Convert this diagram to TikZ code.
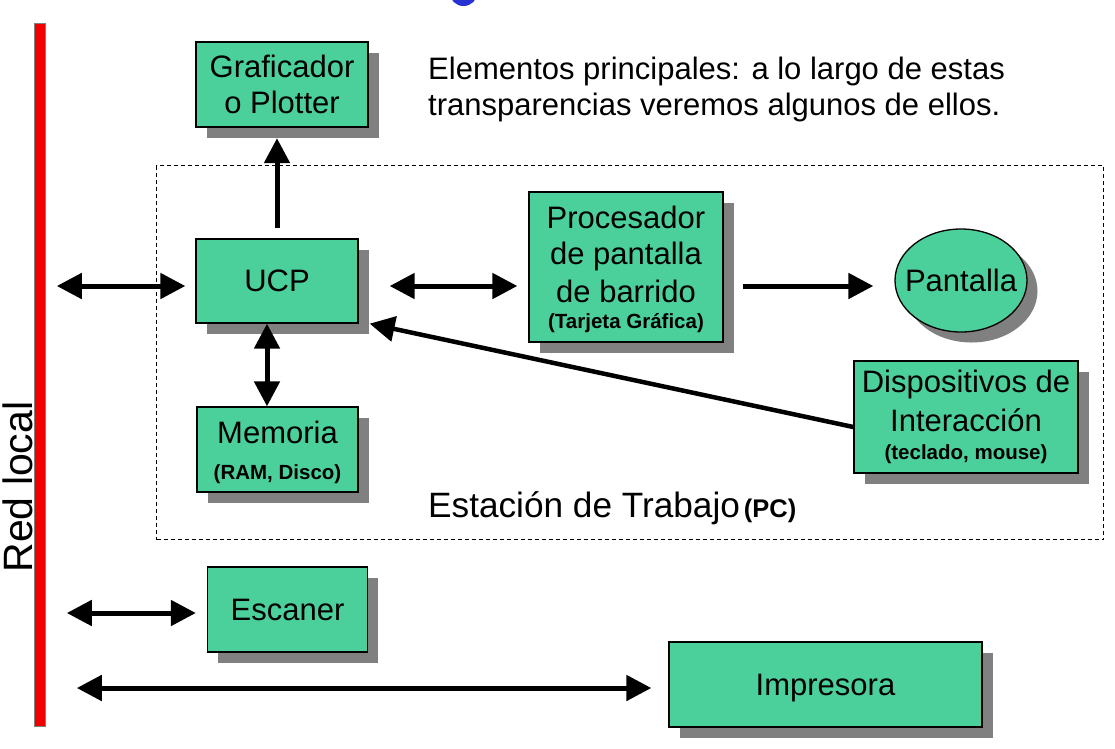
\documentclass[tikz,border=0pt]{standalone}
\usepackage{fontspec}
\setmainfont{Liberation Sans}
\usetikzlibrary{arrows.meta,shapes.geometric,shadows,calc}
\definecolor{boxgreen}{RGB}{76,208,155}
\definecolor{shadowgray}{RGB}{128,128,128}
\definecolor{netred}{RGB}{240,0,0}
\definecolor{blobblue}{RGB}{40,50,210}
\tikzset{
  box/.style={draw=black, line width=1.3pt, fill=boxgreen, inner sep=0pt,
    align=center, font=\fontsize{31}{36}\selectfont,
    drop shadow={shadow xshift=10.5pt, shadow yshift=-10.5pt, fill=shadowgray, opacity=1}},
  arr/.style={line width=5pt, -{Triangle[length=25pt,width=25pt]}},
  dbl/.style={line width=5pt, {Triangle[length=25pt,width=25pt]}-{Triangle[length=25pt,width=25pt]}},
  wsbox/.style={draw=black, line width=1.1pt, dash pattern=on 4pt off 3pt, inner sep=0pt},
  plain/.style={inner sep=0pt, font=\fontsize{31}{36}\selectfont},
}
\newcommand{\sub}[1]{{\bfseries\fontsize{20.5}{24}\selectfont #1}}
\begin{document}
\begin{tikzpicture}[x=1pt,y=-1pt]
\useasboundingbox (0,0) rectangle (1115,748);
% blue fragment at the top
\fill[blobblue] (463.5,-8) circle (14pt);
% network bar
\node[draw=gray, fill=netred, line width=0.8pt, minimum width=11pt, minimum height=703pt,
      inner sep=0pt, anchor=north west] (red) at (34,23) {};
\node[rotate=90, anchor=base, inner sep=0pt, font=\fontsize{41}{48}\selectfont] (redlabel) at (32,487) {Red local};
% workstation region
\node[wsbox, anchor=north west, minimum width=947pt, minimum height=374pt] (ws) at (156,165) {};
\node[plain, anchor=base west, font=\fontsize{35.2}{40}\selectfont] (wslabel) at (428,517)
  {Estación de Trabajo\hspace{4pt}{\bfseries\fontsize{25.5}{30}\selectfont(PC)}};
% heading text
\node[plain, anchor=north west, align=left] (intro) at (428,56.6)
  {Elementos principales: a lo largo de estas\\transparencias veremos algunos de ellos.};
% boxes
\node[box, minimum width=172pt, minimum height=85pt] (graf) at (282,84.5) {Graficador\\o Plotter};
\node[box, minimum width=162pt, minimum height=84pt] (ucp) at (277,281) {UCP};
\node[box, minimum width=194pt, minimum height=150pt] (proc) at (626,267)
  {\rule{0pt}{33pt}Procesador\\[0pt] de pantalla\\[2pt]de barrido\\[-10pt]\sub{(Tarjeta Gráfica)}\rule[-10pt]{0pt}{0pt}};
\node[box, ellipse, minimum width=132pt, minimum height=103pt] (pant) at (961,280.5) {\makebox[0pt]{Pantalla}};
\node[box, minimum width=224pt, minimum height=112pt] (disp) at (966,417)
  {Dispositivos de\\[3pt]Interacción\\[-8pt]\sub{(teclado, mouse)}};
\node[box, minimum width=161pt, minimum height=85pt] (mem) at (277.5,449.5)
  {\rule{0pt}{28pt}Memoria\\\sub{(RAM, Disco)}};
\node[box, minimum width=160pt, minimum height=85pt] (esc) at (287.5,609.5) {Escaner};
\node[box, minimum width=313pt, minimum height=85pt, text depth=0pt] (imp) at (825.5,684.5) {Impresora};
% connectors
\draw[arr] ([yshift=10pt]ucp.north) -- ([yshift=-10.5pt]ucp.north |- graf.south);
\draw[dbl] ($(red.east |- ucp.west)+(11,5)$) -- ($(ucp.west)+(-10,5)$);
\draw[dbl] ($(ucp.east)+(31,5)$) -- ($(proc.west |- ucp.east)+(-11,5)$);
\draw[arr] ($(proc.east |- ucp.east)+(19,5)$) -- ($(pant.west |- ucp.east)+(-21,5)$);
\draw[dbl] ($(ucp.south)+(-10,0)$) -- ($(mem.north)+(-10.5,0)$);
\draw[arr, line width=4.5pt] ($(disp.west)+(0,10)$) -- ($(ucp.south east)+(11,0)$);
\draw[dbl] ($(red.east |- esc.west)+(21,3.5)$) -- ($(esc.west)+(-11,3.5)$);
\draw[dbl] ($(red.east |- imp.west)+(31,3.5)$) -- ($(imp.west)+(-17,3.5)$);
\end{tikzpicture}
\end{document}
